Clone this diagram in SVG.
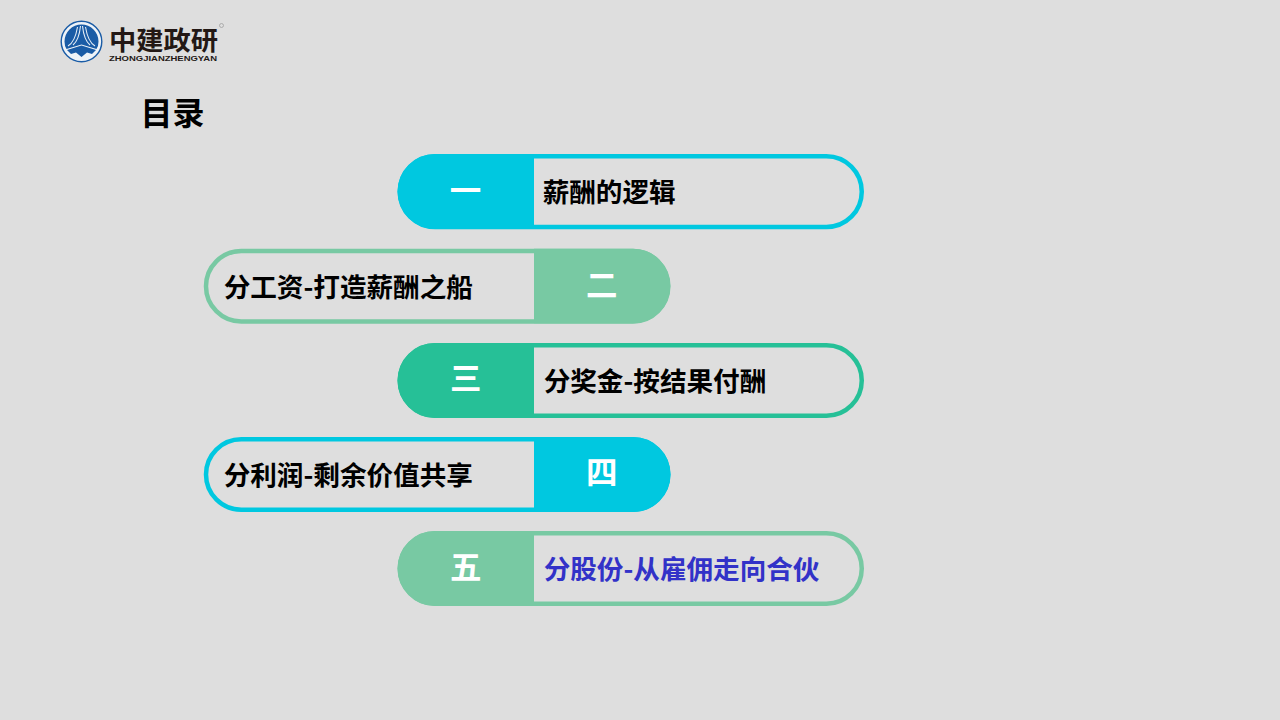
<svg xmlns="http://www.w3.org/2000/svg" width="1280" height="720" viewBox="0 0 1280 720">
<style>
text{font-family:"Noto Sans CJK SC","Liberation Sans",sans-serif;font-weight:700}
.t{font-size:26.600px;fill:#000}
.n{font-size:31.500px;fill:#fff;text-anchor:middle}
.p{fill:none;stroke-width:4.500}
</style>
<rect width="1280" height="720" fill="#dedede"/>
<g id="logo">
<circle cx="81.500" cy="41.500" r="20.300" fill="#eef3f8" stroke="#1a5ca6" stroke-width="1.400"/>
<path d="M64.500 41.500A17 17 0 0 1 98.500 41.500Q98.500 46 96.500 49L81.500 44.500L66.500 49Q64.500 46 64.500 41.500Z" fill="#1a5ca6"/>
<path d="M68 46Q75 42 77.500 27M95 46Q88 42 85.500 27M73 45Q79 40 80.500 26M90 45Q84 40 82.500 26" fill="none" stroke="#e4edf6" stroke-width="1.100"/>
<path d="M67 50L81.500 45.500L96 50L92 54L87 52.500L81.500 57L76 52.500L71 54Z" fill="#1a5ca6"/>
<text x="109" y="49.500" font-size="26" fill="#231815" textLength="109" lengthAdjust="spacingAndGlyphs">中建政研</text>
<text x="109" y="60.500" font-size="7" fill="#231815" style="font-family:'Liberation Sans',sans-serif" textLength="108" lengthAdjust="spacingAndGlyphs">ZHONGJIANZHENGYAN</text>
<circle cx="221.500" cy="25.500" r="2" fill="none" stroke="#999" stroke-width=".7"/>
</g>
<text id="title" x="140.500" y="125" font-size="32" fill="#000">目录</text>
<g id="item1">
<rect class="p" x="399.750" y="156.250" width="462" height="70.750" rx="35.375" stroke="#00c8e0"/>
<path d="M534 154H435A37.500 37.500 0 0 0 435 229H534Z" fill="#00c8e0"/>
<text class="n" x="465.500" y="202">一</text>
<text class="t" x="542.700" y="202">薪酬的逻辑</text>
</g>
<g id="item2">
<rect class="p" x="206" y="251" width="462.300" height="70.500" rx="35.250" stroke="#78c9a3"/>
<path d="M534 248.700H633A37.300 37.300 0 0 1 633 323.300H534Z" fill="#78c9a3"/>
<text class="n" x="601.700" y="297">二</text>
<text class="t" x="223.700" y="297">分工资-打造薪酬之船</text>
</g>
<g id="item3">
<rect class="p" x="399.750" y="345.250" width="462" height="70.500" rx="35.250" stroke="#26c097"/>
<path d="M534 343H435A37.500 37.500 0 0 0 435 418H534Z" fill="#26c097"/>
<text class="n" x="465.700" y="390">三</text>
<text class="t" x="543.700" y="391">分奖金-按结果付酬</text>
</g>
<g id="item4">
<rect class="p" x="206" y="439.250" width="462.300" height="70.500" rx="35.250" stroke="#00c8e0"/>
<path d="M534 437H633A37.500 37.500 0 0 1 633 512H534Z" fill="#00c8e0"/>
<text class="n" x="601.700" y="484">四</text>
<text class="t" x="223.700" y="485">分利润-剩余价值共享</text>
</g>
<g id="item5">
<rect class="p" x="399.750" y="533.250" width="462" height="70.500" rx="35.250" stroke="#78c9a3"/>
<path d="M534 531H435A37.500 37.500 0 0 0 435 606H534Z" fill="#78c9a3"/>
<text class="n" x="465.700" y="579">五</text>
<text class="t" x="543.700" y="579" style="fill:#3232c8">分股份-从雇佣走向合伙</text>
</g>
</svg>
